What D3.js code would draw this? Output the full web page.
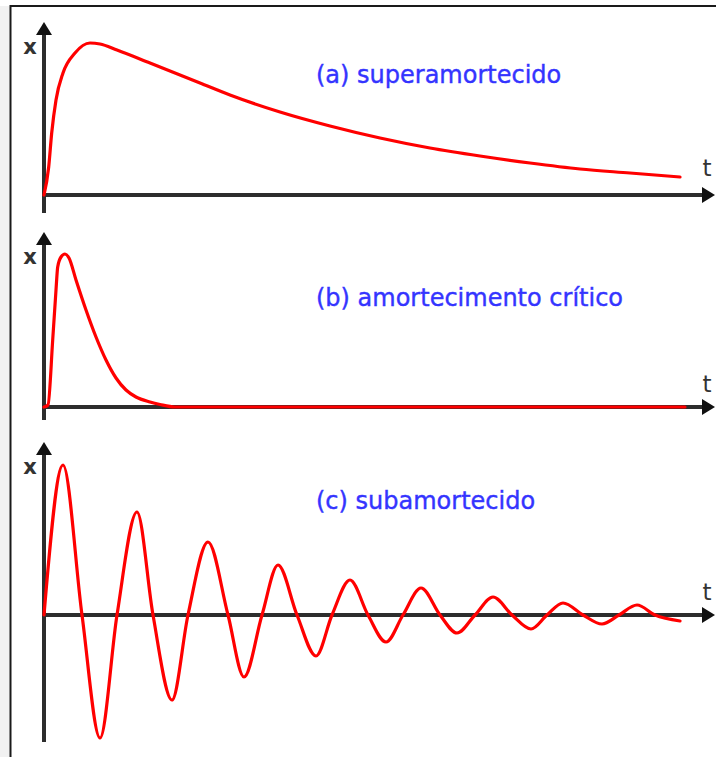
<!DOCTYPE html>
<html>
<head>
<meta charset="utf-8">
<script src="https://cdn.jsdelivr.net/npm/d3@7"></script>
<style>
  body { margin: 0; background: #fff; }
  svg { display: block; }
</style>
</head>
<body>
<svg id="svg" width="716" height="757"></svg>
<script>
const WIDTH = 716
const HEIGHT = 757

// (a) superamortecido
const tA = [0, 0.47, 0.77, 1.2, 1.9, 3.1, 4.6, 5.6, 7.3, 10.6, 13.6, 15.6, 18.6, 23.6, 28.6, 33.6, 38.6, 43.6, 48.6, 53.6, 58.6, 63.6]
const xA = [0, 0.28, 0.62, 0.95, 1.22, 1.42, 1.52, 1.51, 1.45, 1.32, 1.20, 1.12, 1.00, 0.83, 0.69, 0.57, 0.47, 0.39, 0.32, 0.26, 0.22, 0.18]

// (b) amortecimento critico
const tB = [0, 0.4, 0.87, 1.2, 1.37, 1.7, 2.1, 2.5, 3.2, 4.2, 5.2, 6.2, 7.2, 8.2, 9.2, 10.6, 11.6, 13.1, 64.1]
const xB = [0, 0.02, 0.67, 1.17, 1.40, 1.50, 1.53, 1.49, 1.27, 0.97, 0.70, 0.47, 0.29, 0.17, 0.10, 0.05, 0.025, 0, 0]

// (c) subamortecido
const tC = [0, 1.9, 3.8, 5.6, 7.3, 9.3, 10.9, 12.8, 14.4, 16.4, 18.4, 20.0, 21.8, 23.4, 25.3, 27.2, 28.8, 30.6,
  32.4, 34.2, 35.9, 37.7, 39.6, 41.3, 43.1, 44.9, 46.8, 48.7, 50.3, 51.9, 53.9, 55.8, 57.5, 59.3, 61.1, 63.6]
const xC = [0, 1.50, 0, -1.23, 0, 1.03, 0, -0.85, 0, 0.73, 0, -0.62, 0, 0.50, 0, -0.41, 0, 0.35,
  0, -0.27, 0, 0.27, 0, -0.18, 0, 0.18, 0, -0.14, 0, 0.12, 0, -0.09, 0, 0.10, 0, -0.06]

const LABELS = ['(a) superamortecido', '(b) amortecimento crítico', '(c) subamortecido']

// layout of the three panels (pixel positions)
const PANELS = [
  { t: tA, x: xA, label: LABELS[0], axisY: 195, top: 22, bottom: 213, labelY: 83, xLabelY: 54, tLabelY: 176 },
  { t: tB, x: xB, label: LABELS[1], axisY: 407, top: 232, bottom: 420, labelY: 306, xLabelY: 264, tLabelY: 392 },
  { t: tC, x: xC, label: LABELS[2], axisY: 615, top: 442, bottom: 742, labelY: 509, xLabelY: 474, tLabelY: 600 }
]

const T_MAX = 67.1
const X_SCALE = d3.scaleLinear().domain([0, T_MAX]).range([44, 715])
const ARROW_LEN = 12
const ARROW_HALF = 8

const SVG = d3.select('#svg')

// page frame
SVG.append('rect').attr('x', 0).attr('y', 0).attr('width', WIDTH).attr('height', HEIGHT).attr('fill', '#fff')
SVG.append('rect').attr('x', 0).attr('y', 6).attr('width', 10).attr('height', HEIGHT).attr('fill', '#f1f1f1')
SVG.append('line').attr('x1', 10.5).attr('x2', 10.5).attr('y1', 5).attr('y2', HEIGHT)
  .attr('stroke', '#1a1a1a').attr('stroke-width', 2)
SVG.append('line').attr('x1', 10).attr('x2', WIDTH).attr('y1', 6).attr('y2', 6)
  .attr('stroke', '#1a1a1a').attr('stroke-width', 2)

PANELS.forEach(p => {
  const y = d3.scaleLinear().domain([0, 1]).range([p.axisY, p.axisY - 100])
  const g = SVG.append('g')
  const x0 = X_SCALE(0)
  const xEnd = X_SCALE(T_MAX)
  const y0 = y(0)

  // axes
  g.append('line')
    .attr('x1', x0).attr('x2', x0)
    .attr('y1', p.bottom).attr('y2', p.top + ARROW_LEN)
    .attr('stroke', '#2d2d2d').attr('stroke-width', 4)
  g.append('line')
    .attr('x1', x0 - 2).attr('x2', xEnd - ARROW_LEN)
    .attr('y1', y0).attr('y2', y0)
    .attr('stroke', '#2d2d2d').attr('stroke-width', 4)
  g.append('path')
    .attr('d', `M${x0},${p.top} L${x0 + ARROW_HALF},${p.top + ARROW_LEN + 1} L${x0 - ARROW_HALF},${p.top + ARROW_LEN + 1} Z`)
    .attr('fill', '#111')
  g.append('path')
    .attr('d', `M${xEnd},${y0} L${xEnd - ARROW_LEN - 1},${y0 - ARROW_HALF} L${xEnd - ARROW_LEN - 1},${y0 + ARROW_HALF} Z`)
    .attr('fill', '#111')

  // curve
  const line = d3.line()
    .x((d, i) => X_SCALE(p.t[i]))
    .y(d => y(d))
    .curve(d3.curveMonotoneX)
  g.append('path')
    .attr('d', line(p.x))
    .attr('fill', 'none')
    .attr('stroke', '#ff0000')
    .attr('stroke-width', 3.2)
    .attr('stroke-linejoin', 'round')
    .attr('stroke-linecap', 'round')

  // text
  g.append('text')
    .text('x')
    .attr('x', 30).attr('y', p.xLabelY)
    .attr('text-anchor', 'middle')
    .attr('font-family', 'DejaVu Sans')
    .attr('font-weight', 'bold')
    .attr('font-size', 21)
    .attr('fill', '#333')
  g.append('text')
    .text('t')
    .attr('x', 707).attr('y', p.tLabelY)
    .attr('text-anchor', 'middle')
    .attr('font-family', 'DejaVu Sans')
    .attr('font-size', 23)
    .attr('fill', '#333')
  g.append('text')
    .text(p.label)
    .attr('x', 316).attr('y', p.labelY)
    .attr('font-family', 'DejaVu Sans')
    .attr('font-size', 24)
    .attr('fill', '#3434ff')
    .attr('stroke', '#3434ff')
    .attr('stroke-width', 0.4)
})
</script>
</body>
</html>
